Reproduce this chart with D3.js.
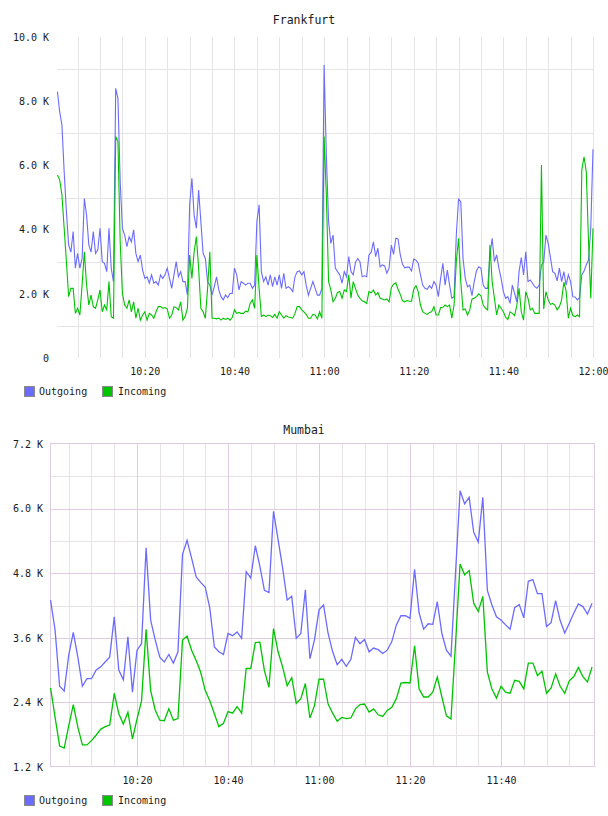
<!DOCTYPE html>
<html>
<head>
<meta charset="utf-8">
<script src="https://cdn.jsdelivr.net/npm/d3@7"></script>
<style>
  body { margin: 0; background: #fff; }
  text { font-family: "DejaVu Sans Mono", monospace; font-size: 10px; fill: #1a1a1a; }
  text.title { font-size: 11.5px; }
</style>
</head>
<body>
<script>
// Frankfurt: one sample every 30 s, 10:00:30 .. 12:00:00 (values in K)
const frankOut = [8.3,7.67,7.26,5.8,4.56,3.52,3.3,3.94,2.8,3.26,
2.8,3.1,4.97,4.45,3.52,3.3,3.94,3.26,3.36,4.04,
3.0,2.95,2.69,4.04,2.8,2.38,8.4,8.09,5.49,4.04,
3.83,3.47,3.78,3.62,3.99,3.26,3.0,3.21,2.74,2.48,
2.53,2.33,2.59,2.33,2.38,2.27,2.59,2.48,2.59,2.8,
2.48,2.17,2.59,3.0,2.53,2.69,2.38,2.38,1.96,4.77,
5.6,4.45,4.04,5.23,4.25,3.26,3.1,2.38,2.27,1.96,
2.22,2.53,2.12,1.91,1.81,1.96,1.88,2.01,2.01,2.8,
2.59,2.12,2.38,2.33,2.27,2.33,2.33,2.17,2.27,4.25,
4.77,2.69,2.38,2.53,2.27,2.59,2.22,2.53,2.27,2.59,
2.17,2.64,2.17,2.22,2.17,2.07,2.53,2.69,2.71,2.59,
2.69,2.27,1.96,2.17,2.38,2.17,1.96,1.96,2.17,9.13,
6.32,4.25,3.57,3.83,2.8,2.69,2.59,2.33,2.69,2.53,
3.16,2.69,2.59,2.98,3.1,3.0,2.53,2.56,2.53,3.21,
3.29,3.62,3.16,3.42,2.84,2.9,2.87,2.64,2.8,3.52,
3.23,3.73,3.71,3.21,2.92,2.81,2.83,2.83,2.71,3.08,
3.05,2.95,2.59,2.27,2.17,2.14,2.25,2.17,2.38,2.27,
1.91,2.48,2.95,2.27,2.74,2.27,1.86,1.91,3.83,4.95,
4.87,3.1,2.48,2.22,2.27,1.94,2.38,2.71,2.84,2.8,
2.27,2.17,2.17,3.21,3.73,3.0,3.21,2.8,2.48,2.07,
1.86,1.91,1.7,2.27,2.01,1.75,2.69,3.13,2.59,3.31,
2.38,2.43,2.33,2.22,2.17,2.27,2.9,2.98,3.83,3.57,
3.13,2.69,2.64,2.4,2.8,2.38,2.69,2.27,2.59,2.38,
1.91,1.9,1.81,1.88,2.59,2.71,2.9,3.05,4.04,6.5];

const frankIn = [5.7,5.55,5.08,4.04,3.0,1.91,2.17,2.17,1.39,1.55,
1.34,2.27,3.31,2.27,1.65,1.96,1.6,1.55,1.81,2.12,
1.44,1.65,1.5,2.38,1.29,1.24,6.9,6.74,3.62,2.01,
1.65,1.55,1.81,1.44,1.75,1.24,1.55,1.18,1.34,1.44,
1.18,1.39,1.34,1.24,1.44,1.6,1.6,1.55,1.57,1.53,
1.24,1.34,1.6,1.57,1.5,1.75,1.18,1.29,1.55,3.21,
2.48,3.31,3.78,2.8,1.55,1.44,1.24,2.17,3.31,1.24,
1.24,1.22,1.24,1.18,1.24,1.2,1.24,1.18,1.26,1.5,
1.39,1.42,1.39,1.39,1.46,1.44,1.7,1.81,1.55,3.21,
2.17,1.29,1.34,1.29,1.34,1.32,1.26,1.36,1.24,1.44,
1.34,1.24,1.32,1.28,1.26,1.24,1.39,1.6,1.6,1.5,
1.44,1.36,1.24,1.24,1.36,1.34,1.22,1.44,1.24,6.9,
5.08,2.38,2.12,1.75,1.86,2.04,2.07,1.86,2.12,2.07,
2.59,1.86,2.38,2.17,1.96,1.86,1.78,1.75,1.7,2.07,
2.03,2.12,1.96,2.04,1.86,1.84,1.81,1.84,1.75,2.19,
2.3,2.34,2.14,1.98,1.78,1.75,1.79,1.77,1.77,2.14,
2.25,2.07,1.65,1.44,1.39,1.36,1.42,1.44,1.6,1.34,
1.34,1.57,1.58,1.65,1.6,1.65,1.24,1.65,3.0,3.73,
2.38,1.5,1.53,1.34,1.5,1.84,1.86,1.91,2.0,1.94,
1.65,1.55,1.5,3.52,2.38,1.86,1.34,1.65,1.55,1.44,
1.27,1.2,1.44,1.39,1.32,1.63,2.17,1.44,1.18,2.07,
1.86,1.5,1.55,1.39,1.39,1.39,6.01,1.53,2.07,1.81,
1.67,1.7,1.65,1.5,1.6,1.81,2.36,2.09,1.24,1.55,
1.32,1.29,1.34,1.29,5.86,6.27,5.8,3.62,1.86,4.04];

// Mumbai: one sample per minute, 10:01 .. 12:00 (values in K)
const mumOut = [4.3,3.74,2.7,2.61,3.28,3.7,3.24,2.7,2.84,2.84,
3.0,3.06,3.15,3.24,3.99,3.0,2.82,3.62,2.59,3.37,
3.49,5.27,3.93,3.56,3.24,3.15,3.29,3.13,3.34,5.15,
5.41,5.08,4.73,4.63,4.54,4.15,3.43,3.34,3.29,3.68,
3.64,3.71,3.59,4.83,4.71,5.31,4.93,4.48,4.44,5.95,
5.43,4.9,4.3,4.37,3.59,3.68,4.49,3.21,3.56,4.12,
4.21,3.68,3.34,3.1,3.2,3.07,3.2,3.61,3.49,3.57,
3.34,3.41,3.38,3.31,3.37,3.53,3.84,4.01,4.01,3.96,
4.87,4.06,3.76,3.86,3.85,4.27,3.68,3.37,3.26,4.8,
6.33,6.09,6.21,5.56,5.38,6.21,4.48,4.21,3.99,3.93,
3.84,3.76,4.16,4.22,3.97,4.65,4.68,4.42,4.42,3.81,
3.88,4.29,3.92,3.69,3.87,4.06,4.23,4.18,4.04,4.24];

const mumIn = [2.67,2.12,1.59,1.55,1.97,2.36,1.94,1.61,1.61,1.69,
1.79,1.9,1.95,1.98,2.57,2.19,2.0,2.22,1.72,2.09,
2.43,3.76,2.62,2.26,2.07,2.06,2.28,2.07,2.1,3.56,
3.63,3.37,3.18,2.96,2.62,2.43,2.19,1.95,2.01,2.23,
2.2,2.32,2.2,3.03,3.03,3.51,3.52,2.99,2.68,3.77,
3.34,3.06,2.71,2.86,2.38,2.47,2.75,2.11,2.34,2.83,
2.83,2.37,2.2,2.05,2.12,2.1,2.11,2.28,2.36,2.37,
2.22,2.28,2.17,2.14,2.25,2.31,2.47,2.76,2.77,2.76,
3.45,2.65,2.5,2.5,2.59,2.87,2.5,2.15,2.09,3.49,
4.97,4.77,4.85,4.24,4.09,4.37,2.96,2.65,2.48,2.7,
2.59,2.57,2.81,2.79,2.65,3.13,3.13,2.9,2.98,2.57,
2.67,2.93,2.7,2.57,2.8,2.88,3.05,2.88,2.78,3.06];

const seriesNames = ["Outgoing", "Incoming"];
const seriesColors = ["#6b6bff", "#00c400"];
const frankTicksY = [0, 2000, 4000, 6000, 8000, 10000];
const frankGridY = [1000, 3000, 5000, 7000, 9000];
const mumTicksY = [1200, 2400, 3600, 4800, 6000, 7200];
const mumMinorY = [1800, 3000, 4200, 5400, 6600];

const day = (h, m, s) => new Date(2020, 0, 1, h, m, s || 0);
const fmtK = v => v === 0 ? "0" : (v / 1000).toFixed(1) + " K";
const fmtT = d3.timeFormat("%H:%M");

const svg = d3.select("body").append("svg")
    .attr("width", 608)
    .attr("height", 816);

function toPoints(vals, start, stepMs) {
    return vals.map((v, i) => ({t: new Date(+start + i * stepMs), v: v * 1000}));
}

function legend(y) {
    const lg = svg.append("g").attr("transform", "translate(24," + y + ")");
    seriesNames.forEach((name, i) => {
        const x0 = i * 78;
        lg.append("rect")
            .attr("x", x0 + 0.5).attr("y", 0.5)
            .attr("width", 10).attr("height", 10)
            .attr("fill", seriesColors[i])
            .attr("stroke", "#8a8a8a");
        lg.append("text")
            .attr("x", x0 + 15 + (i ? 1 : 0)).attr("y", 9)
            .text(name);
    });
}

function cleanAxis(a) {
    a.select(".domain").remove();
    a.selectAll("text").attr("fill", "#1a1a1a").attr("font-family", null).attr("font-size", null);
}

// ---------- Frankfurt ----------
const xTop = d3.scaleTime()
    .domain([day(10, 0, 24), day(12, 0, 0)])
    .range([57, 593]);
const yTop = d3.scaleLinear().domain([0, 10000]).range([358, 37]);

svg.append("text").attr("class", "title").attr("x", 304).attr("y", 24)
    .attr("text-anchor", "middle").text("Frankfurt");

const gTop = svg.append("g");
const topMinutes = d3.timeMinute.every(5).range(day(10, 5), day(12, 0, 1));
gTop.selectAll(".vg").data(topMinutes).enter().append("line")
    .attr("x1", d => Math.round(xTop(d)) + 0.5).attr("x2", d => Math.round(xTop(d)) + 0.5)
    .attr("y1", yTop(10000)).attr("y2", yTop(0))
    .attr("stroke", "#e4e4e4");
gTop.selectAll(".hg").data(frankGridY).enter().append("line")
    .attr("x1", 57).attr("x2", 593)
    .attr("y1", d => Math.round(yTop(d)) + 0.5).attr("y2", d => Math.round(yTop(d)) + 0.5)
    .attr("stroke", "#e4e4e4");

const yAxisTop = svg.append("g").attr("transform", "translate(52,0)")
    .call(d3.axisLeft(yTop).tickValues(frankTicksY).tickFormat(fmtK).tickSize(0));
const xAxisTop = svg.append("g").attr("transform", "translate(0,368)")
    .call(d3.axisBottom(xTop)
        .tickValues(d3.timeMinute.every(20).range(day(10, 20), day(12, 0, 1)))
        .tickFormat(fmtT).tickSize(0));
cleanAxis(yAxisTop);
cleanAxis(xAxisTop);
xAxisTop.selectAll("text").attr("dy", "0.35em");

const lineTop = d3.line().x(d => xTop(d.t)).y(d => yTop(d.v));
[frankOut, frankIn].forEach((vals, i) => {
    svg.append("path")
        .datum(toPoints(vals, day(10, 0, 30), 30000))
        .attr("fill", "none")
        .attr("stroke", seriesColors[i])
        .attr("stroke-width", 1.1)
        .attr("d", lineTop);
});
legend(386);

// ---------- Mumbai ----------
const xBot = d3.scaleTime()
    .domain([day(10, 1, 6), day(12, 0, 26)])
    .range([51, 594]);
const yBot = d3.scaleLinear().domain([1200, 7200]).range([767, 444]);

svg.append("text").attr("class", "title").attr("x", 304).attr("y", 434)
    .attr("text-anchor", "middle").text("Mumbai");

const gBot = svg.append("g");
const botMinutes = d3.timeMinute.every(5).range(day(10, 5), day(12, 0));
gBot.selectAll(".vmin").data(botMinutes.filter(d => d.getMinutes() % 20 !== 0)).enter().append("line")
    .attr("x1", d => Math.round(xBot(d)) + 0.5).attr("x2", d => Math.round(xBot(d)) + 0.5)
    .attr("y1", 444).attr("y2", 767)
    .attr("stroke", "#e6e2e6");
gBot.selectAll(".hmin").data(mumMinorY).enter().append("line")
    .attr("x1", 51).attr("x2", 594)
    .attr("y1", d => Math.round(yBot(d)) + 0.5).attr("y2", d => Math.round(yBot(d)) + 0.5)
    .attr("stroke", "#e6e2e6");
gBot.selectAll(".vmaj").data(botMinutes.filter(d => d.getMinutes() % 20 === 0)).enter().append("line")
    .attr("x1", d => Math.round(xBot(d)) + 0.5).attr("x2", d => Math.round(xBot(d)) + 0.5)
    .attr("y1", 444).attr("y2", 767)
    .attr("stroke", "#e0cce0");
gBot.selectAll(".hmaj").data(mumTicksY.slice(1, -1)).enter().append("line")
    .attr("x1", 51).attr("x2", 594)
    .attr("y1", d => Math.round(yBot(d)) + 0.5).attr("y2", d => Math.round(yBot(d)) + 0.5)
    .attr("stroke", "#e0cce0");
gBot.append("rect")
    .attr("x", 50.5).attr("y", 443.5)
    .attr("width", 544).attr("height", 323)
    .attr("fill", "none").attr("stroke", "#e0cce0");

const yAxisBot = svg.append("g").attr("transform", "translate(46,0)")
    .call(d3.axisLeft(yBot).tickValues(mumTicksY).tickFormat(fmtK).tickSize(0));
const xAxisBot = svg.append("g").attr("transform", "translate(0,777)")
    .call(d3.axisBottom(xBot)
        .tickValues(d3.timeMinute.every(20).range(day(10, 20), day(11, 41)))
        .tickFormat(fmtT).tickSize(0));
cleanAxis(yAxisBot);
cleanAxis(xAxisBot);
xAxisBot.selectAll("text").attr("dy", "0.35em");

const lineBot = d3.line().x(d => xBot(d.t)).y(d => yBot(d.v));
[mumOut, mumIn].forEach((vals, i) => {
    svg.append("path")
        .datum(toPoints(vals, day(10, 1, 0), 60000))
        .attr("fill", "none")
        .attr("stroke", seriesColors[i])
        .attr("stroke-width", 1.3)
        .attr("d", lineBot);
});
legend(795);
</script>
</body>
</html>
